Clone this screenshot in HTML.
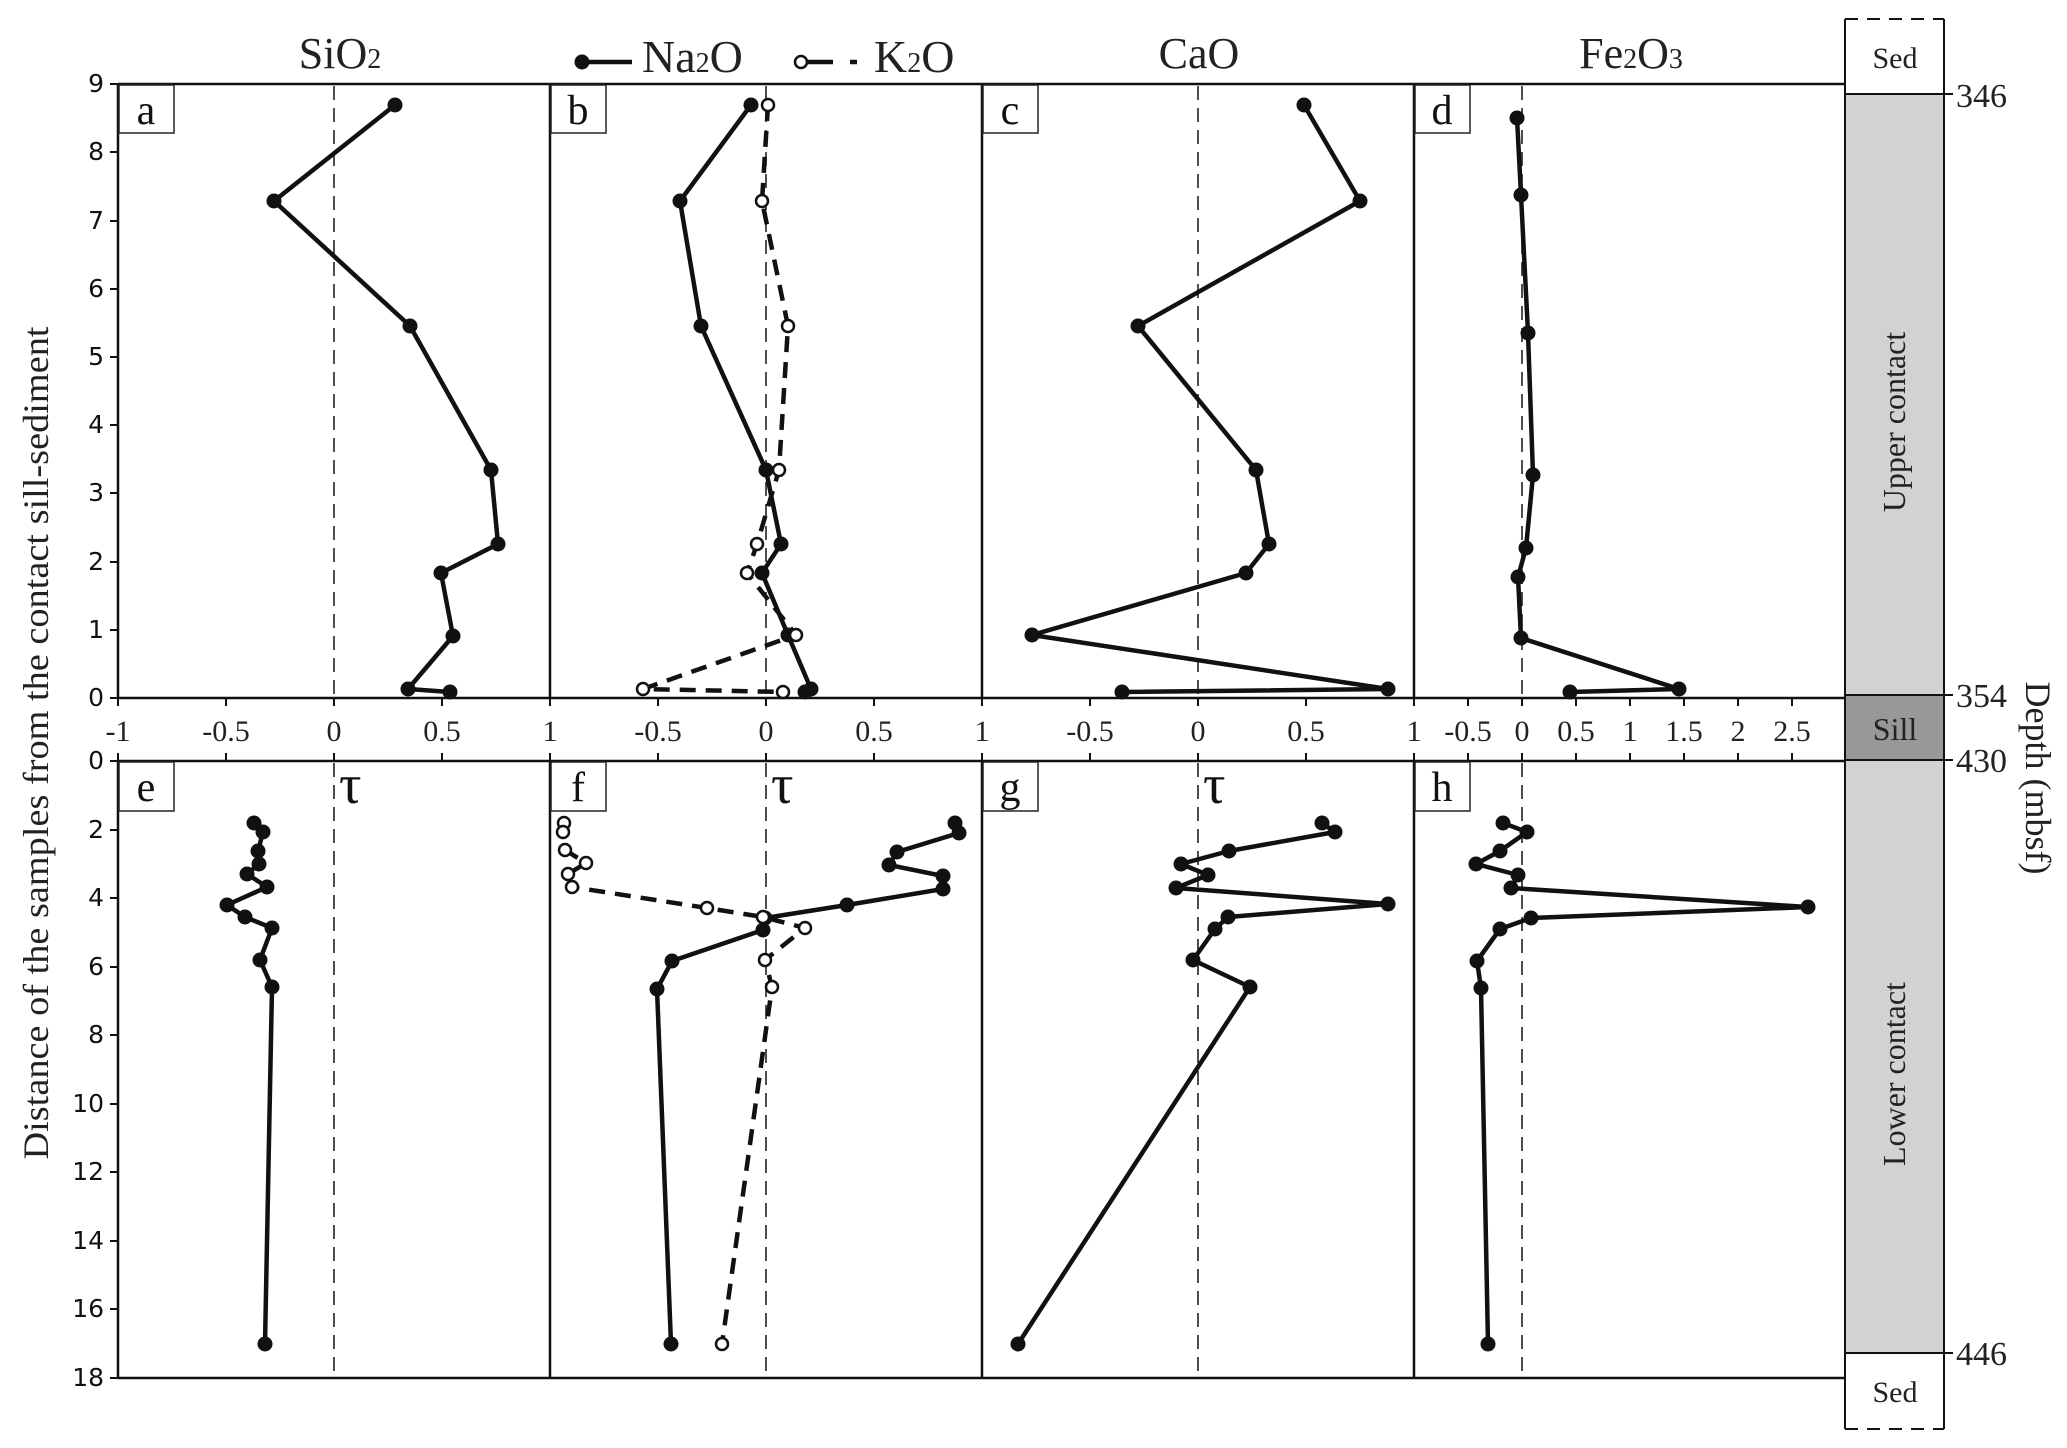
<!DOCTYPE html>
<html><head><meta charset="utf-8"><style>
html,body{margin:0;padding:0;background:#fff}
svg{display:block}
.serif{font-family:"Liberation Serif",serif}
.sans{font-family:"DejaVu Sans",sans-serif}
</style></head><body>
<svg width="2067" height="1448" viewBox="0 0 2067 1448" xmlns="http://www.w3.org/2000/svg">
<rect width="2067" height="1448" fill="#fff"/>

<rect x="1845" y="94" width="99" height="601" fill="#d1d2d4"/>
<rect x="1845" y="695" width="99" height="65" fill="#97989a"/>
<rect x="1845" y="760" width="99" height="593" fill="#d1d2d4"/>
<g stroke="#111" stroke-width="2" fill="none">
<line x1="1845" y1="19" x2="1845" y2="1429"/>
<line x1="1944" y1="19" x2="1944" y2="1429"/>
<line x1="1845" y1="19" x2="1944" y2="19" stroke-dasharray="13,9"/>
<line x1="1845" y1="1429" x2="1944" y2="1429" stroke-dasharray="13,9"/>
<line x1="1845" y1="94" x2="1953" y2="94"/>
<line x1="1845" y1="695" x2="1953" y2="695"/>
<line x1="1845" y1="760" x2="1953" y2="760"/>
<line x1="1845" y1="1353" x2="1953" y2="1353"/>
</g>
<g class="serif" font-size="30" fill="#222" text-anchor="middle">
<text x="1895" y="68">Sed</text>
<text x="1895" y="1402">Sed</text>
<text x="1895" y="740" font-size="32">Sill</text>
<text transform="translate(1905,422) rotate(-90)" font-size="32">Upper contact</text>
<text transform="translate(1905,1074) rotate(-90)" font-size="32">Lower contact</text>
</g>
<g class="serif" font-size="34" fill="#222">
<text x="1956" y="107">346</text>
<text x="1956" y="707">354</text>
<text x="1956" y="772">430</text>
<text x="1956" y="1365">446</text>
<text transform="translate(2026,778) rotate(90)" text-anchor="middle" font-size="36">Depth (mbsf)</text>
</g>

<g stroke="#111" stroke-width="2.5" fill="none">
<line x1="118" y1="84" x2="1845" y2="84"/>
<line x1="118" y1="698" x2="1845" y2="698"/>
<line x1="118" y1="761" x2="1845" y2="761"/>
<line x1="118" y1="1378" x2="1845" y2="1378"/>
<line x1="118" y1="84" x2="118" y2="698"/>
<line x1="118" y1="761" x2="118" y2="1378"/>
<line x1="550" y1="84" x2="550" y2="698"/><line x1="550" y1="761" x2="550" y2="1378"/>
<line x1="982" y1="84" x2="982" y2="698"/><line x1="982" y1="761" x2="982" y2="1378"/>
<line x1="1414" y1="84" x2="1414" y2="698"/><line x1="1414" y1="761" x2="1414" y2="1378"/>
</g>
<g stroke="#222" stroke-width="1.6" stroke-dasharray="14,8">
<line x1="334" y1="86" x2="334" y2="698"/><line x1="334" y1="763" x2="334" y2="1378"/>
<line x1="766" y1="86" x2="766" y2="698"/><line x1="766" y1="763" x2="766" y2="1378"/>
<line x1="1198" y1="86" x2="1198" y2="698"/><line x1="1198" y1="763" x2="1198" y2="1378"/>
<line x1="1522" y1="86" x2="1522" y2="698"/><line x1="1522" y1="763" x2="1522" y2="1378"/>
</g>

<g stroke="#111" stroke-width="2">
<line x1="110" y1="698" x2="118" y2="698"/><line x1="110" y1="630" x2="118" y2="630"/><line x1="110" y1="562" x2="118" y2="562"/><line x1="110" y1="493" x2="118" y2="493"/><line x1="110" y1="425" x2="118" y2="425"/><line x1="110" y1="357" x2="118" y2="357"/><line x1="110" y1="289" x2="118" y2="289"/><line x1="110" y1="221" x2="118" y2="221"/><line x1="110" y1="152" x2="118" y2="152"/><line x1="110" y1="84" x2="118" y2="84"/>
<line x1="110" y1="761" x2="118" y2="761"/><line x1="110" y1="830" x2="118" y2="830"/><line x1="110" y1="898" x2="118" y2="898"/><line x1="110" y1="967" x2="118" y2="967"/><line x1="110" y1="1035" x2="118" y2="1035"/><line x1="110" y1="1104" x2="118" y2="1104"/><line x1="110" y1="1172" x2="118" y2="1172"/><line x1="110" y1="1241" x2="118" y2="1241"/><line x1="110" y1="1309" x2="118" y2="1309"/><line x1="110" y1="1378" x2="118" y2="1378"/>
</g>
<g class="sans" font-size="25" fill="#111" text-anchor="end">
<text x="104" y="706">0</text><text x="104" y="638">1</text><text x="104" y="570">2</text><text x="104" y="501">3</text><text x="104" y="433">4</text><text x="104" y="365">5</text><text x="104" y="297">6</text><text x="104" y="229">7</text><text x="104" y="160">8</text><text x="104" y="92">9</text>
<text x="104" y="769">0</text><text x="104" y="838">2</text><text x="104" y="906">4</text><text x="104" y="975">6</text><text x="104" y="1043">8</text><text x="104" y="1112">10</text><text x="104" y="1180">12</text><text x="104" y="1249">14</text><text x="104" y="1317">16</text><text x="104" y="1386">18</text>
</g>

<g stroke="#111" stroke-width="2">
<line x1="118" y1="698" x2="118" y2="706"/><line x1="226" y1="698" x2="226" y2="706"/><line x1="334" y1="698" x2="334" y2="706"/><line x1="442" y1="698" x2="442" y2="706"/><line x1="550" y1="698" x2="550" y2="706"/>
<line x1="658" y1="698" x2="658" y2="706"/><line x1="766" y1="698" x2="766" y2="706"/><line x1="874" y1="698" x2="874" y2="706"/><line x1="982" y1="698" x2="982" y2="706"/>
<line x1="1090" y1="698" x2="1090" y2="706"/><line x1="1198" y1="698" x2="1198" y2="706"/><line x1="1306" y1="698" x2="1306" y2="706"/><line x1="1414" y1="698" x2="1414" y2="706"/>
<line x1="1468" y1="698" x2="1468" y2="706"/><line x1="1522" y1="698" x2="1522" y2="706"/><line x1="1576" y1="698" x2="1576" y2="706"/><line x1="1630" y1="698" x2="1630" y2="706"/><line x1="1684" y1="698" x2="1684" y2="706"/><line x1="1738" y1="698" x2="1738" y2="706"/><line x1="1792" y1="698" x2="1792" y2="706"/>
<line x1="118" y1="753" x2="118" y2="761"/><line x1="226" y1="753" x2="226" y2="761"/><line x1="334" y1="753" x2="334" y2="761"/><line x1="442" y1="753" x2="442" y2="761"/><line x1="550" y1="753" x2="550" y2="761"/>
<line x1="658" y1="753" x2="658" y2="761"/><line x1="766" y1="753" x2="766" y2="761"/><line x1="874" y1="753" x2="874" y2="761"/><line x1="982" y1="753" x2="982" y2="761"/>
<line x1="1090" y1="753" x2="1090" y2="761"/><line x1="1198" y1="753" x2="1198" y2="761"/><line x1="1306" y1="753" x2="1306" y2="761"/><line x1="1414" y1="753" x2="1414" y2="761"/>
<line x1="1468" y1="753" x2="1468" y2="761"/><line x1="1522" y1="753" x2="1522" y2="761"/><line x1="1576" y1="753" x2="1576" y2="761"/><line x1="1630" y1="753" x2="1630" y2="761"/><line x1="1684" y1="753" x2="1684" y2="761"/><line x1="1738" y1="753" x2="1738" y2="761"/><line x1="1792" y1="753" x2="1792" y2="761"/>
</g>
<g class="serif" font-size="30" fill="#222" text-anchor="middle">
<text x="118" y="741">-1</text><text x="226" y="741">-0.5</text><text x="334" y="741">0</text><text x="442" y="741">0.5</text><text x="550" y="741">1</text>
<text x="658" y="741">-0.5</text><text x="766" y="741">0</text><text x="874" y="741">0.5</text><text x="982" y="741">1</text>
<text x="1090" y="741">-0.5</text><text x="1198" y="741">0</text><text x="1306" y="741">0.5</text><text x="1414" y="741">1</text>
<text x="1468" y="741">-0.5</text><text x="1522" y="741">0</text><text x="1576" y="741">0.5</text><text x="1630" y="741">1</text><text x="1684" y="741">1.5</text><text x="1738" y="741">2</text><text x="1792" y="741">2.5</text>
</g>

<g stroke="#222" stroke-width="1.5" fill="#fff">
<rect x="119" y="85" width="55" height="48"/><rect x="551" y="85" width="55" height="48"/><rect x="983" y="85" width="55" height="48"/><rect x="1415" y="85" width="55" height="48"/>
<rect x="119" y="762" width="55" height="49"/><rect x="551" y="762" width="55" height="49"/><rect x="983" y="762" width="55" height="49"/><rect x="1415" y="762" width="55" height="49"/>
</g>
<g class="serif" font-size="42" fill="#111" text-anchor="middle">
<text x="146" y="124">a</text><text x="578" y="124">b</text><text x="1010" y="124">c</text><text x="1442" y="124">d</text>
<text x="146" y="801">e</text><text x="578" y="801">f</text><text x="1010" y="801">g</text><text x="1442" y="801">h</text>
</g>
<g class="serif" font-size="56" fill="#111">
<text x="339" y="803">τ</text><text x="771" y="803">τ</text><text x="1203" y="803">τ</text>
</g>

<g class="serif" font-size="44" fill="#222" text-anchor="middle">
<text x="340" y="68">SiO<tspan font-size="28">2</tspan></text>
<text x="1199" y="68">CaO</text>
<text x="1631" y="68">Fe<tspan font-size="28">2</tspan>O<tspan font-size="28">3</tspan></text>
</g>
<circle cx="582" cy="62" r="7.5" fill="#111"/>
<line x1="582" y1="62" x2="632" y2="62" stroke="#111" stroke-width="4.5"/>
<text x="642" y="72" class="serif" font-size="46" fill="#222">Na<tspan font-size="28">2</tspan>O</text>
<line x1="801" y1="62" x2="833" y2="62" stroke="#111" stroke-width="4.5"/>
<line x1="850" y1="62" x2="857" y2="62" stroke="#111" stroke-width="4.5"/>
<circle cx="801" cy="62" r="6" fill="#fff" stroke="#111" stroke-width="2.5"/>
<text x="874" y="72" class="serif" font-size="46" fill="#222">K<tspan font-size="28">2</tspan>O</text>

<text transform="translate(48,743) rotate(-90)" text-anchor="middle" class="serif" font-size="36" fill="#222" textLength="833" lengthAdjust="spacingAndGlyphs">Distance of the samples from the contact sill-sediment</text>

<g fill="none" stroke="#111" stroke-width="4.5" stroke-linejoin="round">
<polyline points="395,105 274,201 410,326 491,470 498,544 441,573 453,636 408,689 450,692"/>
<polyline points="751,105 680,201 701,326 766,470 781,544 762,573 788,635 811,689 805,692"/>
<polyline points="1304,105 1360,201 1138,326 1256,470 1269,544 1246,573 1032,635 1388,689 1122,692"/>
<polyline points="1517,118 1521,195 1528,333 1533,475 1526,548 1518,577 1521,638 1679,689 1570,692"/>
<polyline points="254,823 263,832 258,851 259,864 247,874 267,887 227,905 245,917 272,928 260,960 272,987 265,1344"/>
<polyline points="955,823 959,833 897,852 889,865 943,876 943,889 847,905 765,918 763,930 672,961 657,989 671,1344"/>
<polyline points="1322,823 1335,832 1229,851 1181,864 1208,875 1176,888 1388,904 1228,917 1215,929 1193,960 1250,987 1018,1344"/>
<polyline points="1503,823 1527,832 1500,851 1476,864 1518,875 1511,888 1808,907 1531,918 1500,929 1477,961 1481,988 1488,1344"/>
</g>
<g fill="none" stroke="#111" stroke-width="4.5" stroke-dasharray="16,10">
<polyline points="768,105 762,201 788,326 779,470 757,544 747,573 796,635 643,689 783,692"/>
<polyline points="564,823 563,832 565,850 586,863 568,874 572,887 707,908 763,917 805,928 765,960 772,987 722,1344"/>
</g>
<g fill="#111">
<circle cx="395" cy="105" r="7.5"/><circle cx="274" cy="201" r="7.5"/><circle cx="410" cy="326" r="7.5"/><circle cx="491" cy="470" r="7.5"/><circle cx="498" cy="544" r="7.5"/><circle cx="441" cy="573" r="7.5"/><circle cx="453" cy="636" r="7.5"/><circle cx="408" cy="689" r="7.5"/><circle cx="450" cy="692" r="7.5"/>
<circle cx="751" cy="105" r="7.5"/><circle cx="680" cy="201" r="7.5"/><circle cx="701" cy="326" r="7.5"/><circle cx="766" cy="470" r="7.5"/><circle cx="781" cy="544" r="7.5"/><circle cx="762" cy="573" r="7.5"/><circle cx="788" cy="635" r="7.5"/><circle cx="811" cy="689" r="7.5"/><circle cx="805" cy="692" r="7.5"/>
<circle cx="1304" cy="105" r="7.5"/><circle cx="1360" cy="201" r="7.5"/><circle cx="1138" cy="326" r="7.5"/><circle cx="1256" cy="470" r="7.5"/><circle cx="1269" cy="544" r="7.5"/><circle cx="1246" cy="573" r="7.5"/><circle cx="1032" cy="635" r="7.5"/><circle cx="1388" cy="689" r="7.5"/><circle cx="1122" cy="692" r="7.5"/>
<circle cx="1517" cy="118" r="7.5"/><circle cx="1521" cy="195" r="7.5"/><circle cx="1528" cy="333" r="7.5"/><circle cx="1533" cy="475" r="7.5"/><circle cx="1526" cy="548" r="7.5"/><circle cx="1518" cy="577" r="7.5"/><circle cx="1521" cy="638" r="7.5"/><circle cx="1679" cy="689" r="7.5"/><circle cx="1570" cy="692" r="7.5"/>
<circle cx="254" cy="823" r="7.5"/><circle cx="263" cy="832" r="7.5"/><circle cx="258" cy="851" r="7.5"/><circle cx="259" cy="864" r="7.5"/><circle cx="247" cy="874" r="7.5"/><circle cx="267" cy="887" r="7.5"/><circle cx="227" cy="905" r="7.5"/><circle cx="245" cy="917" r="7.5"/><circle cx="272" cy="928" r="7.5"/><circle cx="260" cy="960" r="7.5"/><circle cx="272" cy="987" r="7.5"/><circle cx="265" cy="1344" r="7.5"/>
<circle cx="955" cy="823" r="7.5"/><circle cx="959" cy="833" r="7.5"/><circle cx="897" cy="852" r="7.5"/><circle cx="889" cy="865" r="7.5"/><circle cx="943" cy="876" r="7.5"/><circle cx="943" cy="889" r="7.5"/><circle cx="847" cy="905" r="7.5"/><circle cx="765" cy="918" r="7.5"/><circle cx="763" cy="930" r="7.5"/><circle cx="672" cy="961" r="7.5"/><circle cx="657" cy="989" r="7.5"/><circle cx="671" cy="1344" r="7.5"/>
<circle cx="1322" cy="823" r="7.5"/><circle cx="1335" cy="832" r="7.5"/><circle cx="1229" cy="851" r="7.5"/><circle cx="1181" cy="864" r="7.5"/><circle cx="1208" cy="875" r="7.5"/><circle cx="1176" cy="888" r="7.5"/><circle cx="1388" cy="904" r="7.5"/><circle cx="1228" cy="917" r="7.5"/><circle cx="1215" cy="929" r="7.5"/><circle cx="1193" cy="960" r="7.5"/><circle cx="1250" cy="987" r="7.5"/><circle cx="1018" cy="1344" r="7.5"/>
<circle cx="1503" cy="823" r="7.5"/><circle cx="1527" cy="832" r="7.5"/><circle cx="1500" cy="851" r="7.5"/><circle cx="1476" cy="864" r="7.5"/><circle cx="1518" cy="875" r="7.5"/><circle cx="1511" cy="888" r="7.5"/><circle cx="1808" cy="907" r="7.5"/><circle cx="1531" cy="918" r="7.5"/><circle cx="1500" cy="929" r="7.5"/><circle cx="1477" cy="961" r="7.5"/><circle cx="1481" cy="988" r="7.5"/><circle cx="1488" cy="1344" r="7.5"/>
</g>
<g fill="#fff" stroke="#111" stroke-width="2.5">
<circle cx="768" cy="105" r="6"/><circle cx="762" cy="201" r="6"/><circle cx="788" cy="326" r="6"/><circle cx="779" cy="470" r="6"/><circle cx="757" cy="544" r="6"/><circle cx="747" cy="573" r="6"/><circle cx="796" cy="635" r="6"/><circle cx="643" cy="689" r="6"/><circle cx="783" cy="692" r="6"/>
<circle cx="564" cy="823" r="6"/><circle cx="563" cy="832" r="6"/><circle cx="565" cy="850" r="6"/><circle cx="586" cy="863" r="6"/><circle cx="568" cy="874" r="6"/><circle cx="572" cy="887" r="6"/><circle cx="707" cy="908" r="6"/><circle cx="763" cy="917" r="6"/><circle cx="805" cy="928" r="6"/><circle cx="765" cy="960" r="6"/><circle cx="772" cy="987" r="6"/><circle cx="722" cy="1344" r="6"/>
</g>
</svg>
</body></html>
